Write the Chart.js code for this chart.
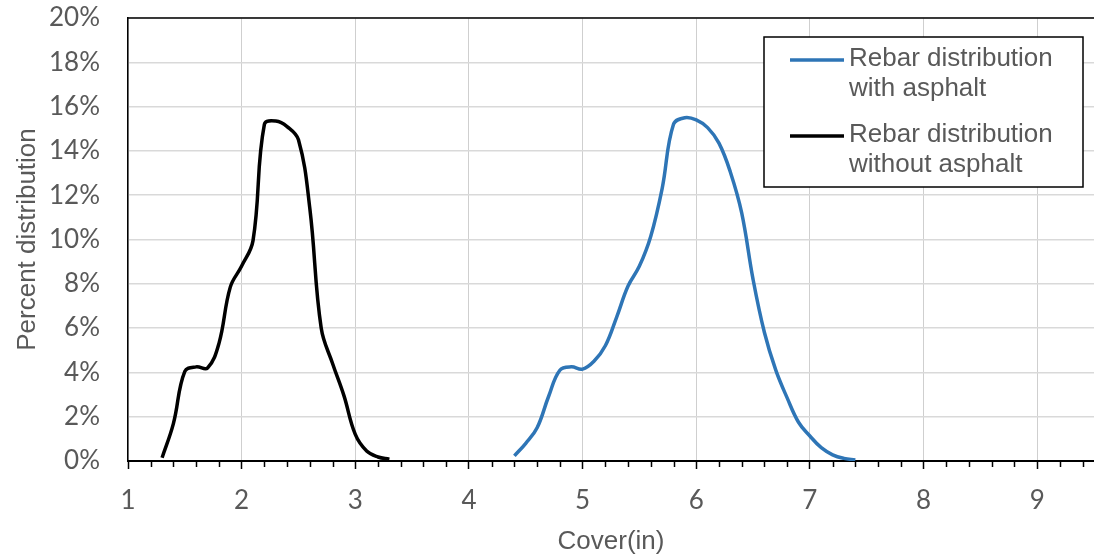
<!DOCTYPE html>
<html>
<head>
<meta charset="utf-8">
<script src="https://cdn.jsdelivr.net/npm/chart.js@4/dist/chart.umd.min.js"></script>
<style>
  html, body { margin: 0; padding: 0; background: #ffffff; }
  #wrap { width: 1094px; height: 558px; position: relative; }
</style>
</head>
<body>
<div id="wrap"><canvas id="chart"></canvas></div>
<script>
// Rebar cover readings (inches) and share of bars at each cover (%)
const coverWithAsphalt = [4.4, 4.5, 4.6, 4.7, 4.8, 4.9, 5.0, 5.1, 5.2, 5.3, 5.4, 5.5, 5.6, 5.7, 5.8, 5.9,
  6.0, 6.1, 6.2, 6.3, 6.4, 6.5, 6.6, 6.7, 6.8, 6.9, 7.0, 7.1, 7.2, 7.3, 7.4];
const pctWithAsphalt = [0.23, 0.8, 1.5, 2.9, 4.1, 4.25, 4.15, 4.5, 5.2, 6.5, 7.9, 8.8, 10.15, 12.3, 15.2, 15.5,
  15.4, 15.05, 14.35, 13.05, 11.2, 8.2, 5.8, 4.1, 2.85, 1.75, 1.13, 0.6, 0.28, 0.12, 0.05];

const coverWithoutAsphalt = [1.3, 1.4, 1.5, 1.6, 1.7, 1.8, 1.9, 2.0, 2.1, 2.2, 2.3, 2.4, 2.5, 2.6, 2.7,
  2.8, 2.9, 3.0, 3.1, 3.2, 3.3];
const pctWithoutAsphalt = [0.15, 1.7, 4.05, 4.25, 4.2, 5.3, 7.85, 8.8, 9.95, 15.2, 15.35, 15.1, 14.5, 11.4, 6.0,
  4.4, 2.95, 1.2, 0.45, 0.18, 0.08];

const seriesLabels = [
  ['Rebar distribution', 'with asphalt'],
  ['Rebar distribution', 'without asphalt']
];
const seriesColors = ['#2E75B6', '#000000'];

const xTitle = 'Cover(in)';
const yTitle = 'Percent distribution';
const xMin = 1, xMax = 9.5, xStep = 1, xMinorStep = 0.2;
const yMin = 0, yMax = 20, yStep = 2;

const textColor = '#595959';
const textFont = "'Liberation Sans', Arial, sans-serif";
const tickFont = "Lato, 'Open Sans', sans-serif";

function toPoints(xs, ys) { return xs.map((x, i) => ({ x: x, y: ys[i] })); }

// Short minor ticks under the x axis plus the frame line along the top of the plot
const axisExtras = {
  id: 'axisExtras',
  afterDraw(chart) {
    const { ctx, chartArea } = chart;
    const xs = chart.scales.x;
    ctx.save();
    ctx.strokeStyle = '#000';
    ctx.lineWidth = 1.5;
    const n = Math.round((xMax - xMin) / xMinorStep);
    for (let i = 0; i <= n; i++) {
      const v = xMin + i * xMinorStep;
      if (Math.abs(v - Math.round(v)) < 1e-6) continue;
      const px = Math.round(xs.getPixelForValue(v)) + 0.5;
      ctx.beginPath();
      ctx.moveTo(px, chartArea.bottom);
      ctx.lineTo(px, chartArea.bottom + 6);
      ctx.stroke();
    }
    ctx.beginPath();
    ctx.moveTo(chartArea.left, chartArea.top);
    ctx.lineTo(chartArea.right, chartArea.top);
    ctx.stroke();
    ctx.restore();
  }
};

// Boxed legend with two-line entries
const boxLegend = {
  id: 'boxLegend',
  afterDraw(chart) {
    const { ctx, chartArea } = chart;
    const boxRight = chartArea.right - 11;
    const boxLeft = boxRight - 319;
    const boxTop = chartArea.top + 19;
    const boxH = 150;
    ctx.save();
    ctx.fillStyle = '#ffffff';
    ctx.fillRect(boxLeft, boxTop, boxRight - boxLeft, boxH);
    ctx.strokeStyle = '#000';
    ctx.lineWidth = 1.5;
    ctx.strokeRect(boxLeft, boxTop, boxRight - boxLeft, boxH);
    ctx.font = '26px ' + textFont;
    ctx.textBaseline = 'middle';
    ctx.textAlign = 'left';
    chart.data.datasets.forEach((ds, i) => {
      const rowTop = boxTop + 22 + i * 76;
      ctx.strokeStyle = ds.borderColor;
      ctx.lineWidth = 3.5;
      ctx.beginPath();
      ctx.moveTo(boxLeft + 26, rowTop + 1);
      ctx.lineTo(boxLeft + 80, rowTop + 1);
      ctx.stroke();
      ctx.fillStyle = textColor;
      ds.label.forEach((line, j) => {
        ctx.fillText(line, boxLeft + 85, rowTop + j * 30);
      });
    });
    ctx.restore();
  }
};

new Chart(document.getElementById('chart'), {
  type: 'line',
  data: {
    datasets: [
      {
        label: seriesLabels[0],
        data: toPoints(coverWithAsphalt, pctWithAsphalt),
        borderColor: seriesColors[0],
        borderWidth: 3.5,
        pointRadius: 0,
        tension: 0.4,
        fill: false
      },
      {
        label: seriesLabels[1],
        data: toPoints(coverWithoutAsphalt, pctWithoutAsphalt),
        borderColor: seriesColors[1],
        borderWidth: 3.5,
        pointRadius: 0,
        tension: 0.4,
        fill: false
      }
    ]
  },
  options: {
    responsive: true,
    maintainAspectRatio: false,
    animation: false,
    layout: { padding: { left: 8, top: 18, right: 0, bottom: 0 } },
    plugins: {
      legend: { display: false },
      tooltip: { enabled: false }
    },
    scales: {
      x: {
        type: 'linear',
        min: xMin,
        max: xMax,
        afterFit(scale) { scale.height = 97; },
        border: { color: '#000', width: 2 },
        grid: {
          color: '#cfcfcf',
          lineWidth: 1,
          tickLength: 8,
          tickColor: '#000',
          tickWidth: 1.5
        },
        ticks: {
          stepSize: xStep,
          includeBounds: false,
          color: textColor,
          font: { family: tickFont, size: 26 },
          padding: 16,
          maxRotation: 0
        },
        title: {
          display: true,
          text: xTitle,
          color: textColor,
          font: { family: textFont, size: 26 },
          padding: { top: 4, bottom: 1 }
        }
      },
      y: {
        min: yMin,
        max: yMax,
        afterFit(scale) { scale.width = 120; },
        border: { color: '#000', width: 1.5 },
        grid: {
          color: '#d9d9d9',
          lineWidth: 1.5,
          drawTicks: true,
          tickLength: 28,
          tickColor: 'rgba(0,0,0,0)'
        },
        ticks: {
          stepSize: yStep,
          color: textColor,
          font: { family: tickFont, size: 26 },
          padding: 0,
          callback: (v) => v + '%'
        },
        title: {
          display: true,
          text: yTitle,
          color: textColor,
          font: { family: textFont, size: 26 },
          padding: { top: 4, bottom: 4 }
        }
      }
    }
  },
  plugins: [axisExtras, boxLegend]
});
</script>
</body>
</html>
